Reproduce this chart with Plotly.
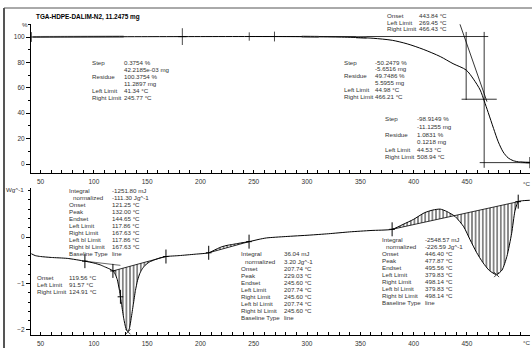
import numpy as np
import plotly.graph_objects as go

# ---------------- data ----------------
TGA_T = [41.3, 50, 75, 100, 150, 200, 245.8, 270, 300, 330, 350, 362, 380, 394, 409, 425,
         437, 449.3, 456.2, 462.5, 466.2, 470, 475, 479.4, 484, 488.7, 493.5, 500, 505, 509]
TGA_PCT = [100.0, 100.05, 100.12, 100.18, 100.27, 100.33, 100.375, 100.36, 100.25, 99.95, 99.5,
           99.0, 97.4, 94.6, 90.3, 84.6, 79.0, 74.0, 66.8, 58.2, 49.75, 40.5, 28.0, 17.5, 9.5,
           4.8, 2.6, 1.5, 1.15, 1.08]

DSC_T = [41.3, 45, 50, 60, 75, 91.6, 100, 106, 110, 115, 117.9, 120, 122, 124, 126, 128, 130,
         132, 133.5, 135, 137, 139, 141, 143, 145, 148, 152, 157, 162, 167.6, 180, 195, 207.7,
         215, 220, 225, 230, 235, 240, 245.6, 255, 262, 280, 302, 320, 340, 360, 379.8, 390,
         400, 410, 418, 425, 431, 439, 447, 453, 459, 465, 471, 477.9, 483, 487.5, 492, 495,
         498.1, 502, 509]
DSC_HF = [-0.36, -0.40, -0.42, -0.44, -0.46, -0.52, -0.56, -0.60, -0.64, -0.69, -0.73, -0.80,
          -0.92, -1.15, -1.45, -1.75, -1.96, -2.04, -1.95, -1.75, -1.45, -1.15, -0.93, -0.79,
          -0.70, -0.61, -0.54, -0.49, -0.45, -0.42, -0.40, -0.37, -0.34, -0.26, -0.21, -0.18,
          -0.16, -0.14, -0.12, -0.10, -0.05, -0.02, 0.01, 0.04, 0.07, 0.11, 0.14, 0.165, 0.27,
          0.38, 0.52, 0.58, 0.60, 0.55, 0.44, 0.22, -0.06, -0.33, -0.55, -0.72, -0.81, -0.71,
          -0.42, 0.08, 0.55, 0.76, 0.78, 0.79]

X_TICKS = [50, 100, 150, 200, 250, 300, 350, 400, 450]
TGA_Y_TICKS = [0, 20, 40, 60, 80, 100]
DSC_Y_TICKS = [-2, -1, 0]

TITLE = "TGA-HDPE-DALIM-N2, 11.2475 mg"

# integration limits (left bl, right bl)
DSC_INTEGRALS = [(117.86, 167.63), (207.74, 245.60), (379.83, 498.14)]
DSC_LIMIT_MARKS = [117.86, 167.63, 207.74, 245.60, 379.83, 498.14]
DSC_PEAKS = [132.00, 477.87]
DSC_ONSET_EVAL = [91.57, 119.56, 124.91]

TGA_MARKS = [41.34, 183.0, 245.77, 269.45, 508.94]

STEP_LABELS = ["Step", "", "Residue", "", "Left Limit", "Right Limit"]
TGA_STEP1_VALUES = ["0.3754 %", "42.2185e-03 mg", "100.3754 %", "11.2897 mg", "41.34 °C", "245.77 °C"]
TGA_STEP2_VALUES = ["-50.2479 %", "-5.6516 mg", "49.7486 %", "5.5955 mg", "44.98 °C", "466.21 °C"]
TGA_STEP3_VALUES = ["-98.9149 %", "-11.1255 mg", "1.0831 %", "0.1218 mg", "44.53 °C", "508.94 °C"]
ONSET_LABELS = ["Onset", "Left Limit", "Right Limit"]
TGA_ONSET_VALUES = ["443.84 °C", "269.45 °C", "466.43 °C"]
DSC_ONSET_VALUES = ["119.56 °C", "91.57 °C", "124.91 °C"]
INTEGRAL_LABELS = ["Integral", "normalized", "Onset", "Peak", "Endset", "Left Limit",
                   "Right Limit", "Left bl Limit", "Right bl Limit", "Baseline Type"]
DSC_PEAK1_VALUES = ["-1251.80 mJ", "-111.30 Jg^-1", "121.25 °C", "132.00 °C", "144.65 °C",
                    "117.86 °C", "167.63 °C", "117.86 °C", "167.63 °C", "line"]
DSC_PEAK2_VALUES = ["36.04 mJ", "3.20 Jg^-1", "207.74 °C", "229.03 °C", "245.60 °C",
                    "207.74 °C", "245.60 °C", "207.74 °C", "245.60 °C", "line"]
DSC_PEAK3_VALUES = ["-2548.57 mJ", "-226.59 Jg^-1", "446.40 °C", "477.87 °C", "495.56 °C",
                    "379.83 °C", "498.14 °C", "379.83 °C", "498.14 °C", "line"]

# ---------------- layout geometry ----------------
W, H = 532, 348
ML, MR, MT, MB = 31, 2, 24, 13
PW, PH = W - ML - MR, H - MT - MB
X_RANGE = [41.0, 509.2]
TGA_RANGE = [-7.09, 110.24]
DSC_RANGE = [-2.108, 1.054]
FONT = "Liberation Sans"
TXT = "#333333"


def px(x):
    return (x - ML) / PW


def py(y):
    return (H - MB - y) / PH


fig = go.Figure()

tT = np.array(TGA_T)
tP = np.array(TGA_PCT)
dT = np.array(DSC_T)
dH = np.array(DSC_HF)


def dsc_at(t):
    return float(np.interp(t, dT, dH))


def tga_at(t):
    return float(np.interp(t, tT, tP))


# ---- TGA evaluation helper lines ----
tga_eval = [
    ([245.77, 470.0], [100.37, 100.37]),          # extrapolated baseline
    ([443.5, 468.8], [110.0, 49.1]),              # tangent
    ([449.3, 449.3], [104.0, 50.4]),              # onset marker
    ([445.0, 478.0], [51.0, 51.0]),               # mid-step line
    ([466.2, 466.2], [104.0, -3.0]),              # inflection
    ([462.0, 509.0], [1.08, 1.08]),               # residue line
]
for xs, ys in tga_eval:
    fig.add_trace(go.Scatter(x=xs, y=ys, mode="lines", line=dict(color="black", width=0.8),
                             xaxis="x2", yaxis="y2", hoverinfo="skip"))
# gray baseline segments
for a, b in [(43, 128), (295, 311), (346, 356), (500, 509)]:
    xs = [t for t in TGA_T if a <= t <= b]
    xs = [a] + xs + [b]
    fig.add_trace(go.Scatter(x=xs, y=[tga_at(t) for t in xs], mode="lines",
                             line=dict(color="#9a9a9a", width=2.2),
                             xaxis="x2", yaxis="y2", hoverinfo="skip"))

# TGA curve
fig.add_trace(go.Scatter(x=TGA_T, y=TGA_PCT, mode="lines",
                         line=dict(color="black", width=1, shape="spline", smoothing=0.8),
                         xaxis="x2", yaxis="y2", hoverinfo="skip"))
# TGA markers
mark_sizes = [7, 12, 6, 7, 8]
fig.add_trace(go.Scatter(x=TGA_MARKS, y=[tga_at(t) for t in TGA_MARKS], mode="markers",
                         marker=dict(symbol="line-ns", size=mark_sizes,
                                     line=dict(color="black", width=1)),
                         xaxis="x2", yaxis="y2", hoverinfo="skip"))
fig.add_trace(go.Scatter(x=[183.0, 508.94], y=[tga_at(183.0), tga_at(508.94)], mode="markers",
                         marker=dict(symbol="line-ew", size=6,
                                     line=dict(color="black", width=1)),
                         xaxis="x2", yaxis="y2", hoverinfo="skip"))

# ---- DSC integrations (hatched) ----
for tl, tr in DSC_INTEGRALS:
    vl, vr = dsc_at(tl), dsc_at(tr)
    fig.add_trace(go.Scatter(x=[tl, tr], y=[vl, vr], mode="lines",
                             line=dict(color="black", width=0.8), hoverinfo="skip"))
    xs = [tl] + [t for t in DSC_T if tl < t < tr] + [tr]
    ys = [dsc_at(t) for t in xs]
    fig.add_trace(go.Scatter(x=xs, y=ys, mode="lines", line=dict(color="rgba(0,0,0,0)", width=0,
                                                                  shape="spline", smoothing=0.6),
                             fill="tonexty", fillcolor="rgba(0,0,0,0)",
                             fillpattern=dict(shape="|", size=3.6, solidity=0.28,
                                              fgcolor="#222222", bgcolor="rgba(0,0,0,0)"),
                             hoverinfo="skip"))

# DSC onset evaluation (peak 1)
o_l, o_on, o_r = DSC_ONSET_EVAL
fig.add_trace(go.Scatter(x=[o_l, o_r], y=[dsc_at(o_l), dsc_at(o_l) - 0.09], mode="lines",
                         line=dict(color="#444", width=0.8), hoverinfo="skip"))

# DSC curve
fig.add_trace(go.Scatter(x=DSC_T, y=DSC_HF, mode="lines",
                         line=dict(color="black", width=1, shape="spline", smoothing=0.6),
                         hoverinfo="skip"))
# DSC limit markers
lm = DSC_LIMIT_MARKS + [o_l, o_r]
fig.add_trace(go.Scatter(x=lm, y=[dsc_at(t) for t in lm], mode="markers",
                         marker=dict(symbol="line-ns", size=10, line=dict(color="black", width=1)),
                         hoverinfo="skip"))
fig.add_trace(go.Scatter(x=lm, y=[dsc_at(t) for t in lm], mode="markers",
                         marker=dict(symbol="line-ew", size=4, line=dict(color="black", width=1)),
                         hoverinfo="skip"))
fig.add_trace(go.Scatter(x=DSC_PEAKS, y=[dsc_at(t) for t in DSC_PEAKS], mode="markers",
                         marker=dict(symbol="x-thin", size=5, line=dict(color="#444", width=1)),
                         hoverinfo="skip"))

# ---------------- axes ----------------
xcommon = dict(range=X_RANGE, showline=True, linecolor="black", linewidth=1,
               ticks="inside", ticklen=3, tickcolor="black", tickvals=X_TICKS,
               minor=dict(dtick=10, tick0=0, ticks="inside", ticklen=3, tickcolor="black"),
               showgrid=False, zeroline=False, automargin=False,
               tickfont=dict(family=FONT, size=6.5, color=TXT), ticklabelstandoff=2)
ycommon = dict(showline=True, linecolor="black", linewidth=1, ticks="outside", ticklen=4,
               tickcolor="black", showgrid=False, zeroline=False, automargin=False,
               tickfont=dict(family=FONT, size=6.5, color=TXT))

dom_top = [py(173), 1.0]
dom_bot = [0.0, py(188)]

fig.update_layout(
    width=W, height=H, template="none",
    margin=dict(l=ML, r=MR, t=MT, b=MB, pad=0),
    paper_bgcolor="white", plot_bgcolor="white", showlegend=False,
    font=dict(family=FONT, size=6.5, color=TXT),
    xaxis=dict(anchor="y", **xcommon),
    yaxis=dict(domain=dom_bot, range=DSC_RANGE, tickvals=DSC_Y_TICKS,
               minor=dict(dtick=0.2, tick0=0, ticks="outside", ticklen=2, tickcolor="black"),
               **ycommon),
    xaxis2=dict(anchor="y2", **xcommon),
    yaxis2=dict(domain=dom_top, range=TGA_RANGE, tickvals=TGA_Y_TICKS,
                minor=dict(dtick=10, tick0=0, ticks="outside", ticklen=2, tickcolor="black"),
                **ycommon),
)

# ---------------- text ----------------
ann = []


def text(x, y, s, size=6.2, color=TXT, anchor="left", bold=False):
    ann.append(dict(x=px(x), y=py(y), xref="paper", yref="paper", text=("<b>%s</b>" % s) if bold else s,
                    showarrow=False, xanchor=anchor, yanchor="middle",
                    font=dict(family=FONT, size=size, color=color), borderpad=0))


def block(labels, values, xl, xv, y0, dy):
    for i, (lab, val) in enumerate(zip(labels, values)):
        y = y0 + i * dy
        if lab:
            text(xl + (4 if lab == "normalized" else 0), y, lab)
        if val:
            text(xv, y, val)


text(35, 17, TITLE, size=6.4, color="black", bold=True)
text(29, 25, "%", anchor="right")
text(5, 189, "Wg^-1")
text(526, 183, "°C", anchor="center")
text(526, 342, "°C", anchor="center")

block(STEP_LABELS, TGA_STEP1_VALUES, 91, 123, 63, 7.0)
block(ONSET_LABELS, TGA_ONSET_VALUES, 386, 418, 15, 7.0)
block(STEP_LABELS, TGA_STEP2_VALUES, 343, 374, 62, 6.9)
block(STEP_LABELS, TGA_STEP3_VALUES, 384, 416, 119, 7.6)
block(INTEGRAL_LABELS, DSC_PEAK1_VALUES, 68, 111, 190, 7.0)
block(ONSET_LABELS, DSC_ONSET_VALUES, 36, 68, 277, 7.0)
block(INTEGRAL_LABELS, DSC_PEAK2_VALUES, 240, 283, 254, 7.0)
block(INTEGRAL_LABELS, DSC_PEAK3_VALUES, 381, 424, 240, 6.9)

fig.update_layout(annotations=ann)

# frame
fig.add_shape(type="line", xref="paper", yref="paper", x0=px(4), x1=px(4), y0=py(8), y1=py(348),
              line=dict(color="#555", width=2))
fig.add_shape(type="line", xref="paper", yref="paper", x0=px(4), x1=px(532), y0=py(8), y1=py(8),
              line=dict(color="#555", width=1))

fig.write_html("out.html", config={"displayModeBar": False, "staticPlot": True},
               post_script="document.body.style.margin='0';document.body.style.padding='0';"
                           "document.body.style.overflow='hidden';")
